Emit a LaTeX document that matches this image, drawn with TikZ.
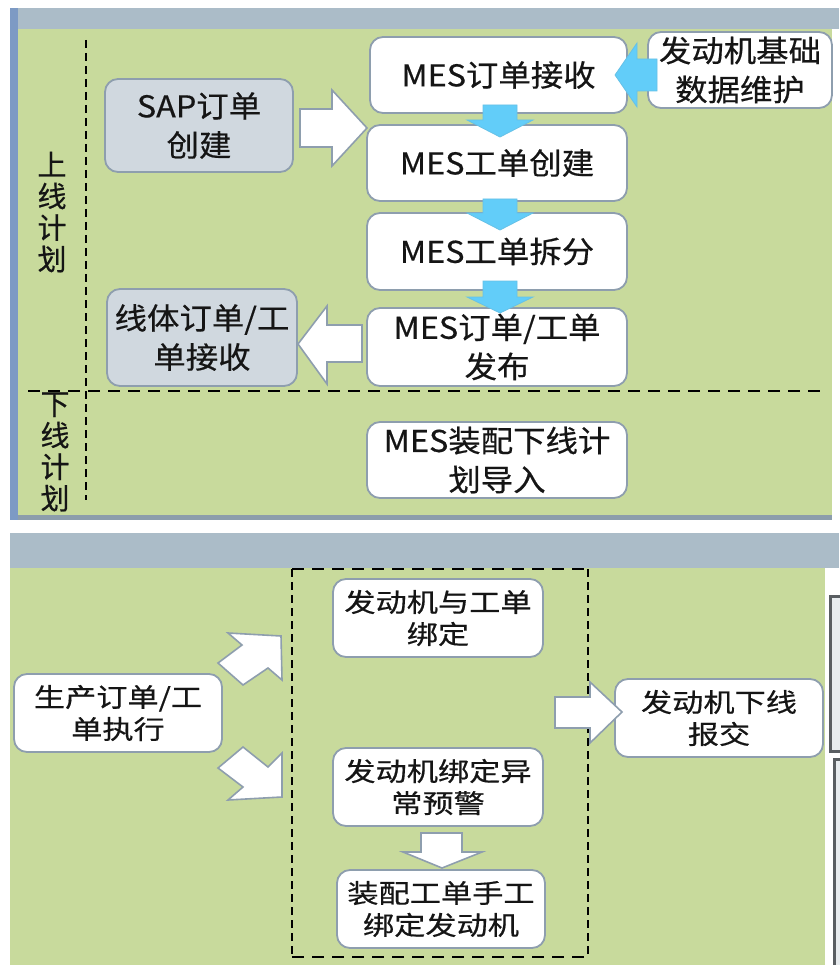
\documentclass[tikz,border=0pt]{standalone}
\usepackage{fontspec}
\setmainfont[FakeBold=0.5]{Noto Sans CJK SC}
\newfontfamily\topfont[FakeStretch=1.08,FakeBold=0.5]{Noto Sans CJK SC}
\newfontfamily\botfont[FakeStretch=1.2,FakeBold=0.5]{Noto Sans CJK SC}
\definecolor{panelgreen}{HTML}{C8DA9C}
\definecolor{bandgrey}{HTML}{ABBCC8}
\definecolor{stripblue}{HTML}{7D9AC4}
\definecolor{stripgrey}{HTML}{8C9DAB}
\definecolor{boxborder}{HTML}{8E9EAE}
\definecolor{greyfill}{HTML}{D0D8DF}
\definecolor{skyarrow}{HTML}{62CDF9}
\definecolor{darkframe}{HTML}{5A5E62}
\definecolor{framefill}{HTML}{E8ECEF}
\definecolor{textblack}{HTML}{151515}
\begin{document}
\begin{tikzpicture}[x=1pt,y=-1pt,
  box/.style={draw=boxborder, line width=1.8pt, fill=white, rounded corners=13pt,
    align=center, inner sep=0pt, text=textblack},
  topbox/.style={box, font=\topfont\fontsize{30}{39}\selectfont},
  greybox/.style={topbox, fill=greyfill},
  botbox/.style={box, font=\botfont\fontsize{26}{32}\selectfont},
  sidelabel/.style={align=center, inner sep=0pt, text=textblack, font=\fontsize{29}{31.5}\selectfont},
  hdash/.style={draw=black, line width=2.8pt, dash pattern=on 12pt off 8pt},
  vdash/.style={draw=black, line width=2.8pt, dash pattern=on 8pt off 5pt},
  bluearrow/.style={fill=skyarrow, draw=skyarrow!85!gray, line width=0.8pt, line join=miter},
  whitearrow/.style={fill=white, draw=boxborder, line width=1.6pt, line join=miter}]
\useasboundingbox (0,0) rectangle (839,965);
\fill[white] (0,0) rectangle (839,965);

% ---------- top panel ----------
\fill[bandgrey] (10,8) rectangle (839,29);
\fill[panelgreen] (18,29) rectangle (832,515);
\fill[stripgrey] (10,515) rectangle (832,520);
\fill[stripblue] (10,8) rectangle (18,520);

\draw[vdash] (86,40) -- (86,500);
\draw[hdash] (28,391) -- (826,391);

\node[sidelabel] (uplabel) at (52,212) {上\\线\\计\\划};
\node[sidelabel] (downlabel) at (55,452) {下\\线\\计\\划};

\node[topbox, minimum width=257pt, minimum height=76pt] (recv) at (498.5,75) {MES订单接收};
\node[topbox, minimum width=260pt, minimum height=76pt] (create) at (497,163) {MES工单创建};
\node[topbox, minimum width=260pt, minimum height=77pt] (split) at (497,251.5) {MES工单拆分};
\node[topbox, minimum width=260pt, minimum height=78pt] (publish) at (497,347) {MES订单/工单\\发布};
\node[topbox, minimum width=260pt, minimum height=76pt] (import) at (497,460) {MES装配下线计\\划导入};
\node[topbox, minimum width=184pt, minimum height=76pt] (basedata) at (740,70) {发动机基础\\数据维护};
\node[greybox, minimum width=188pt, minimum height=93pt] (sap) at (199,125.5) {SAP订单\\创建};
\node[greybox, minimum width=190pt, minimum height=97pt] (lineorder) at (202,337.5) {线体订单/工\\单接收};

% blue arrows
\draw[bluearrow] (483,105) -- (517,105) -- (517,120) -- (533,120) -- (500,137) -- (467,120) -- (483,120) -- cycle;
\draw[bluearrow] (483,199) -- (517,199) -- (517,213) -- (533,213) -- (500,230) -- (467,213) -- (483,213) -- cycle;
\draw[bluearrow] (483,281) -- (517,281) -- (517,297) -- (533,297) -- (500,313) -- (467,297) -- (483,297) -- cycle;
\draw[bluearrow] (657,59) -- (637,59) -- (637,43) -- (615,75) -- (637,107) -- (637,91) -- (657,91) -- cycle;

% white arrows
\draw[whitearrow] (300,109) -- (332,109) -- (332,90) -- (367,128) -- (332,166) -- (332,147) -- (300,147) -- cycle;
\draw[whitearrow] (362,325) -- (327,325) -- (327,306) -- (298,344) -- (327,384) -- (327,362) -- (362,362) -- cycle;

% ---------- bottom panel ----------
\fill[bandgrey] (10,533) rectangle (839,568);
\fill[panelgreen] (10,568) rectangle (825,965);
\draw[line width=3pt, draw=darkframe, fill=framefill] (830.5,596.5) rectangle (846,751);
\draw[line width=3pt, draw=darkframe, fill=framefill] (834.5,759.5) rectangle (846,970);

\draw[hdash] (292,569) -- (588,569);
\draw[hdash] (292,957) -- (588,957);
\draw[vdash] (292,569) -- (292,957);
\draw[vdash] (588,569) -- (588,957);

\node[botbox, minimum width=208pt, minimum height=78pt] (exec) at (118,713) {生产订单/工\\单执行};
\node[botbox, minimum width=210pt, minimum height=78pt] (bind) at (438,618) {发动机与工单\\绑定};
\node[botbox, minimum width=210pt, minimum height=78pt] (warn) at (438,787) {发动机绑定异\\常预警};
\node[botbox, minimum width=208pt, minimum height=78pt] (manual) at (441,909) {装配工单手工\\绑定发动机};
\node[botbox, minimum width=208pt, minimum height=78pt] (offline) at (719,718) {发动机下线\\报交};

\draw[whitearrow] (218,663) -- (242,645) -- (228,633) -- (281,636) -- (282,680) -- (268,668) -- (243,685) -- cycle;
\draw[whitearrow] (243,747) -- (268,767) -- (282,753) -- (282,797) -- (228,800) -- (243,787) -- (218,768) -- cycle;
\draw[whitearrow] (421,833) -- (462,833) -- (462,852) -- (482,852) -- (442,868) -- (403,852) -- (421,852) -- cycle;
\draw[whitearrow] (555,697) -- (590,697) -- (590,682) -- (622,712) -- (590,743) -- (590,728) -- (555,728) -- cycle;
\end{tikzpicture}
\end{document}
